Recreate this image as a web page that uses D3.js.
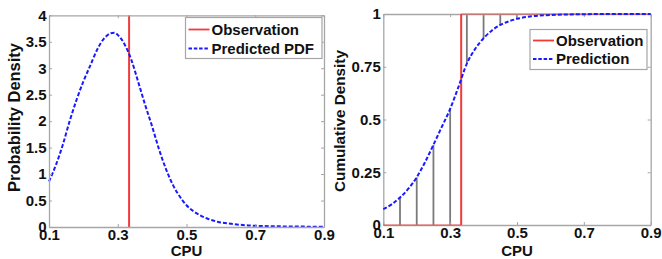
<!DOCTYPE html>
<html>
<head>
<meta charset="utf-8">
<script src="https://cdn.jsdelivr.net/npm/d3@7"></script>
<style>
  html, body { margin: 0; padding: 0; background: #fff; }
  svg { display: block; }
  text { font-family: "Liberation Sans", Arial, sans-serif; font-weight: bold; fill: #111; }
</style>
</head>
<body>
<svg id="chart" width="662" height="259"></svg>
<script>
// ---------- data ----------
const observation = 0.333;

const pdfX = [0.10, 0.12, 0.14, 0.16, 0.18, 0.20, 0.22, 0.24, 0.26, 0.28, 0.29, 0.30, 0.32, 0.34, 0.36, 0.38, 0.40, 0.42, 0.44, 0.46, 0.48, 0.50, 0.52, 0.54, 0.56, 0.59, 0.63, 0.68, 0.75, 0.90];
const pdfY = [0.86, 1.17, 1.55, 2.00, 2.40, 2.75, 3.05, 3.35, 3.56, 3.66, 3.67, 3.63, 3.45, 3.15, 2.73, 2.30, 1.90, 1.47, 1.10, 0.80, 0.58, 0.41, 0.30, 0.22, 0.16, 0.10, 0.06, 0.03, 0.015, 0.005];

const cdfX = [0.10, 0.125, 0.15, 0.175, 0.20, 0.225, 0.25, 0.275, 0.30, 0.325, 0.35, 0.375, 0.40, 0.425, 0.45, 0.475, 0.50, 0.55, 0.60, 0.70, 0.80, 0.90];
const cdfY = [0.075, 0.098, 0.13, 0.172, 0.226, 0.298, 0.38, 0.465, 0.55, 0.655, 0.765, 0.835, 0.885, 0.922, 0.948, 0.965, 0.977, 0.99, 0.995, 0.999, 1.0, 1.0];

const stemX = [0.15, 0.20, 0.25, 0.30, 0.35, 0.40, 0.45, 0.50];
const stemY = [0.13, 0.226, 0.38, 0.55, 0.765, 0.885, 0.948, 0.977];

const xTicks = [0.1, 0.3, 0.5, 0.7, 0.9];
const pdfYTicks = [0, 0.5, 1, 1.5, 2, 2.5, 3, 3.5, 4];
const cdfYTicks = [0, 0.25, 0.5, 0.75, 1];

const pdfLegend = ["Observation", "Predicted PDF"];
const cdfLegend = ["Observation", "Prediction"];

// ---------- styles ----------
const RED = "#f23a3a";
const BLUE = "#1a1aff";
const AXIS = "#a6a6a6";
const svg = d3.select("#chart");

function fmt(d) {
  if (d === 0) return "0";
  if (d === 1) return "1";
  return String(d);
}

// shrink/grow font so text fits a measured target length
function fitText(sel, target) {
  const node = sel.node();
  const fs = parseFloat(sel.attr("font-size"));
  const len = node.getComputedTextLength();
  if (len > 0) sel.attr("font-size", (fs * target / len).toFixed(2));
}

function drawFrame(g, x, y, yTicks) {
  const [x0, x1] = x.range();
  const [y0, y1] = y.range();
  const mk = (axis) => axis.tickSizeOuter(0);
  const bottom = g.append("g").attr("transform", `translate(0,${y0})`)
    .call(mk(d3.axisBottom(x).tickValues(xTicks).tickSizeInner(-3).tickPadding(2.5).tickFormat(fmt)));
  const top = g.append("g").attr("transform", `translate(0,${y1})`)
    .call(mk(d3.axisTop(x).tickValues(xTicks).tickSizeInner(-3).tickFormat("")));
  const left = g.append("g").attr("transform", `translate(${x0},0)`)
    .call(mk(d3.axisLeft(y).tickValues(yTicks).tickSizeInner(-3).tickPadding(2.5).tickFormat(fmt)));
  const right = g.append("g").attr("transform", `translate(${x1},0)`)
    .call(mk(d3.axisRight(y).tickValues(yTicks).tickSizeInner(-3).tickFormat("")));
  [bottom, top, left, right].forEach(a => {
    a.select(".domain").attr("stroke", AXIS).attr("stroke-width", 1.3);
    a.selectAll(".tick line").attr("stroke", AXIS).attr("stroke-width", 1);
    a.selectAll("text").attr("font-size", 15).attr("font-family", "Liberation Sans, Arial, sans-serif")
      .attr("font-weight", "bold").attr("fill", "#111");
  });
}

function drawLegend(g, x0, y0, w, h, labels, rowY) {
  g.append("rect").attr("x", x0).attr("y", y0).attr("width", w).attr("height", h)
    .attr("fill", "#fff").attr("stroke", AXIS).attr("stroke-width", 1.2);
  const styles = [
    { stroke: RED, dash: null },
    { stroke: BLUE, dash: "3.5,1.8" }
  ];
  labels.forEach((lab, i) => {
    const cy = y0 + rowY[i];
    g.append("line").attr("x1", x0 + 3).attr("x2", x0 + 24).attr("y1", cy).attr("y2", cy)
      .attr("stroke", styles[i].stroke).attr("stroke-width", 1.8)
      .attr("stroke-dasharray", styles[i].dash);
    g.append("text").attr("x", x0 + 26).attr("y", cy).attr("dy", "0.35em")
      .attr("font-size", 15).text(lab);
  });
}

// ---------- left panel: PDF ----------
{
  const g = svg.append("g");
  const x = d3.scaleLinear().domain([0.1, 0.9]).range([49, 324]);
  const y = d3.scaleLinear().domain([0, 4]).range([227, 15.3]);

  g.append("line").attr("x1", x(observation)).attr("x2", x(observation))
    .attr("y1", y(0)).attr("y2", y(4)).attr("stroke", RED).attr("stroke-width", 2);

  const pts = pdfX.map((d, i) => [d, pdfY[i]]);
  g.append("path").datum(pts)
    .attr("d", d3.line().x(d => x(d[0])).y(d => y(d[1])).curve(d3.curveMonotoneX))
    .attr("fill", "none").attr("stroke", BLUE).attr("stroke-width", 2)
    .attr("stroke-dasharray", "4,2");

  drawFrame(g, x, y, pdfYTicks);
  drawLegend(g, 185.5, 17.5, 136.5, 41, pdfLegend, [12, 31]);

  g.append("text").attr("x", (49 + 324) / 2).attr("y", 256).attr("text-anchor", "middle")
    .attr("font-size", 15).text("CPU");
  const yl = g.append("text").attr("transform", `translate(20,117.5) rotate(-90)`)
    .attr("text-anchor", "middle").attr("font-size", 16).text("Probability Density");
  fitText(yl, 149);
}

// ---------- right panel: CDF ----------
{
  const g = svg.append("g");
  const x = d3.scaleLinear().domain([0.1, 0.9]).range([383.3, 650.7]);
  const y = d3.scaleLinear().domain([0, 1]).range([225, 14]);

  g.selectAll("line.stem").data(stemX).enter().append("line").attr("class", "stem")
    .attr("x1", d => x(d)).attr("x2", d => x(d))
    .attr("y1", d => y(d < observation ? 0 : 1))
    .attr("y2", (d, i) => y(stemY[i]))
    .attr("stroke", "#7a7a7a").attr("stroke-width", 1.8);

  drawFrame(g, x, y, cdfYTicks);

  // observation step CDF: horizontal parts lie on the frame, drawn lighter
  const line = d3.line().x(d => x(d[0])).y(d => y(d[1]));
  g.append("path").datum([[0.1, 0], [observation, 0]]).attr("d", line)
    .attr("fill", "none").attr("stroke", RED).attr("stroke-width", 1.6).attr("stroke-opacity", 0.55);
  g.append("path").datum([[observation, 1], [0.9, 1]]).attr("d", line)
    .attr("fill", "none").attr("stroke", RED).attr("stroke-width", 1.6).attr("stroke-opacity", 0.55);
  g.append("path").datum([[observation, 0], [observation, 1]]).attr("d", line)
    .attr("fill", "none").attr("stroke", RED).attr("stroke-width", 2);

  const pts = cdfX.map((d, i) => [d, cdfY[i]]);
  g.append("path").datum(pts)
    .attr("d", d3.line().x(d => x(d[0])).y(d => y(d[1])).curve(d3.curveMonotoneX))
    .attr("fill", "none").attr("stroke", BLUE).attr("stroke-width", 2)
    .attr("stroke-dasharray", "4,2");

  drawLegend(g, 530, 29.5, 117, 40, cdfLegend, [11, 29.5]);

  g.append("text").attr("x", (383.3 + 650.7) / 2).attr("y", 256).attr("text-anchor", "middle")
    .attr("font-size", 15).text("CPU");
  const yl = g.append("text").attr("transform", `translate(345,121) rotate(-90)`)
    .attr("text-anchor", "middle").attr("font-size", 15.5).text("Cumulative Density");
  fitText(yl, 142);
}
</script>
</body>
</html>
